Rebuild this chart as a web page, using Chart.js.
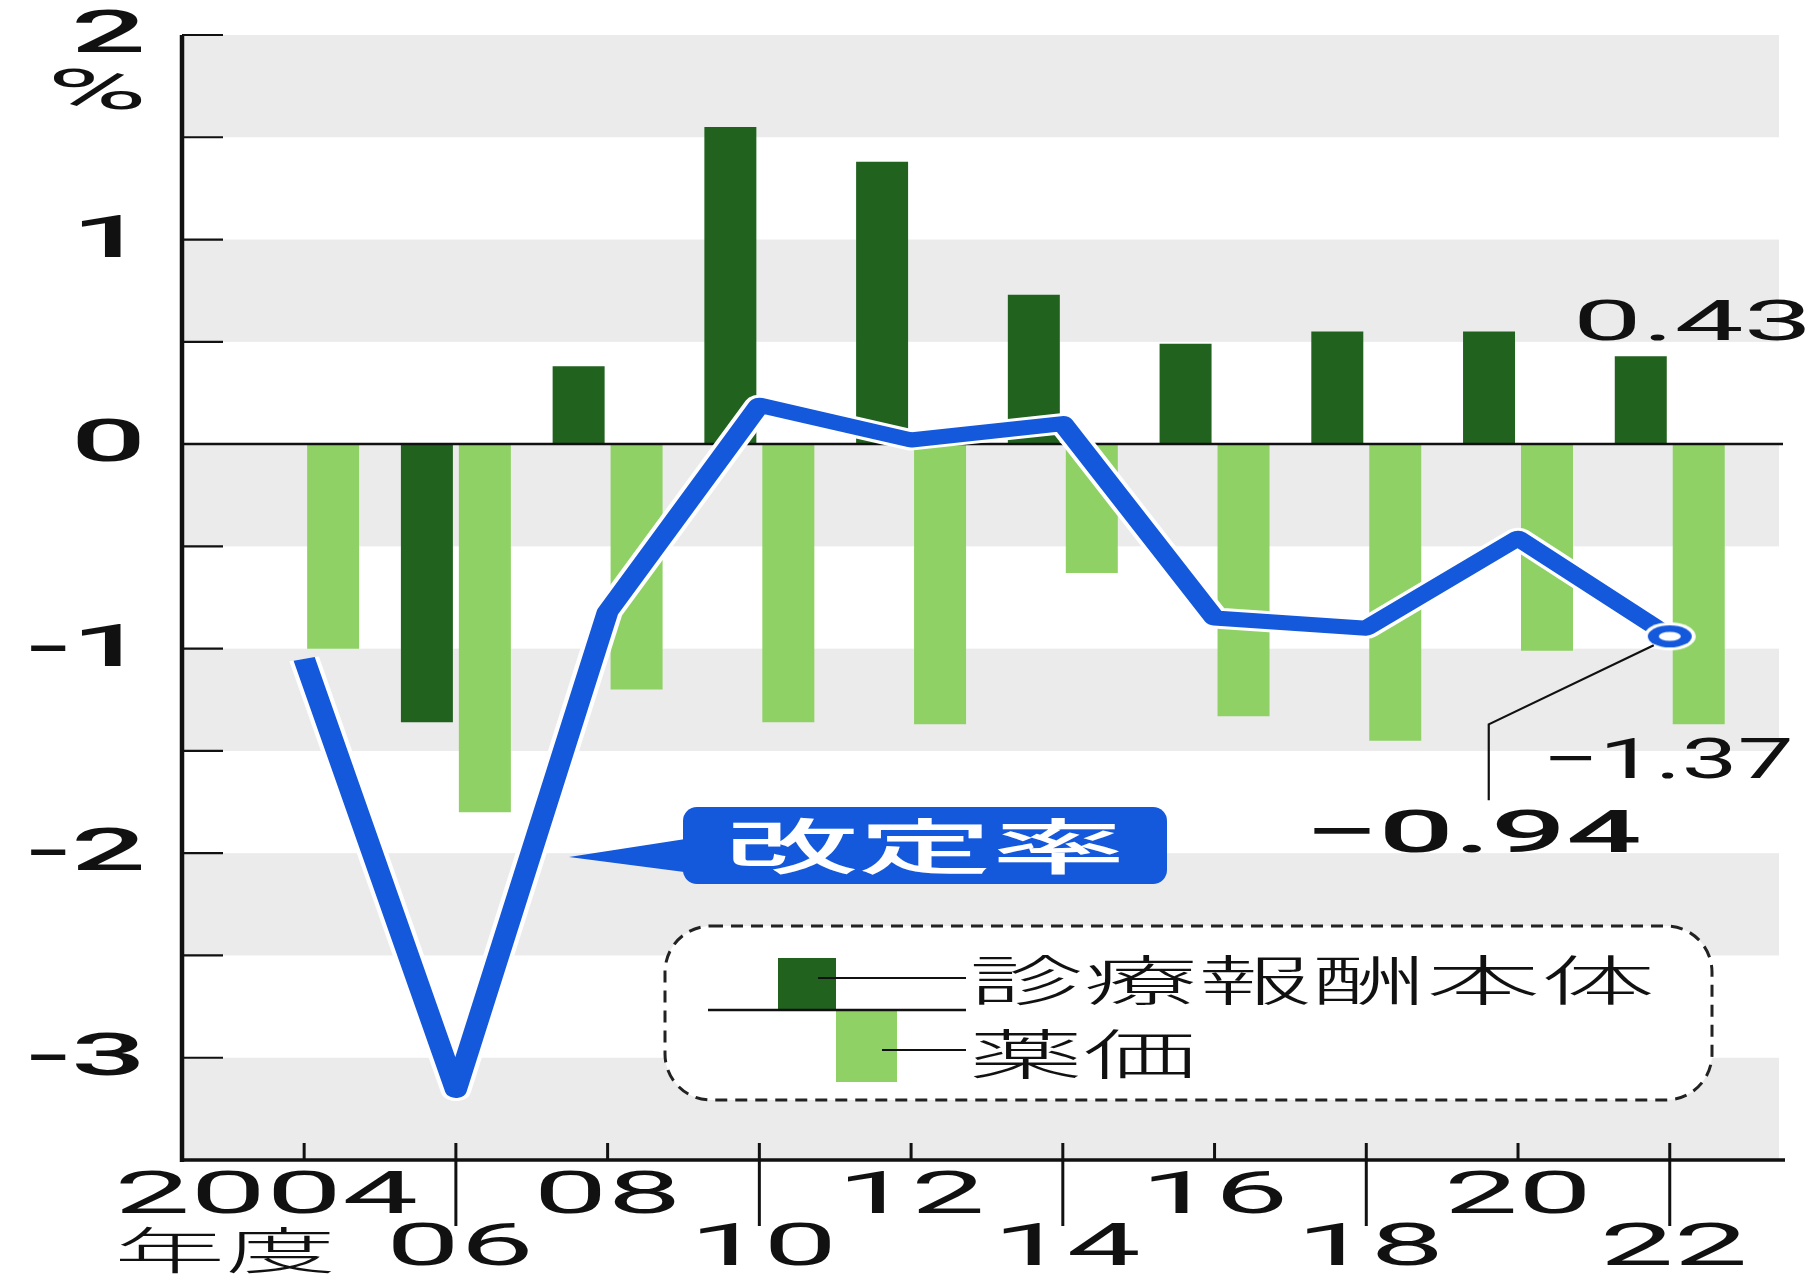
<!DOCTYPE html>
<html lang="ja">
<head>
<meta charset="utf-8">
<script src="https://cdn.jsdelivr.net/npm/chart.js@4.4.0/dist/chart.umd.min.js"></script>
<style>
  html, body { margin: 0; padding: 0; background: #fff; }
  #wrap { width: 1820px; height: 1276px; position: relative; }
</style>
</head>
<body>
<div id="wrap"><canvas id="chart"></canvas></div>
<script>
// 診療報酬改定率の推移 (%)
const years = [2004, 2006, 2008, 2010, 2012, 2014, 2016, 2018, 2020, 2022];
const yearLabels = ['2004', '06', '08', '10', '12', '14', '16', '18', '20', '22'];
const honTai = [0, -1.36, 0.38, 1.55, 1.38, 0.73, 0.49, 0.55, 0.55, 0.43];            // 診療報酬本体
const yakka = [-1.0, -1.8, -1.2, -1.36, -1.37, -0.63, -1.33, -1.45, -1.01, -1.37];     // 薬価
const kaiteiRitsu = [-1.05, -3.16, -0.82, 0.19, 0.02, 0.1, -0.85, -0.9, -0.46, -0.94]; // 改定率
const yTickLabels = [2, 1, 0, -1, -2, -3];

const DARK = '#22621f';
const LIGHT = '#8fd165';
const BLUE = '#1458dc';
const BAND = '#ebebeb';
const INK = '#111';
const PEN_STRETCH = 1.45; // 元図は横長に引き伸ばされているので線のペンも横長に

const pts = (arr) => years.map((yr, i) => ({ x: yr, y: arr[i] }));
const last = years.length - 1;

// 最終点の白抜きマーカー (横長)
const marker = document.createElement('canvas');
marker.width = 54;
marker.height = 30;
(() => {
  const m = marker.getContext('2d');
  const ell = (rx, ry, c) => { m.beginPath(); m.ellipse(27, 15, rx, ry, 0, 0, Math.PI * 2); m.fillStyle = c; m.fill(); };
  ell(26, 14, '#fff');
  ell(22, 11, BLUE);
  ell(11, 4.5, '#fff');
})();

// 横に引き伸ばした文字
function wideText(ctx, text, x, y, opt) {
  ctx.save();
  ctx.font = opt.font;
  ctx.fillStyle = opt.color || INK;
  ctx.textBaseline = 'middle';
  ctx.textAlign = opt.align || 'left';
  let sx = opt.sx || 1;
  if (opt.width) sx = opt.width / ctx.measureText(text).width;
  ctx.translate(x, y);
  ctx.scale(sx, 1);
  ctx.fillText(text, 0, 0);
  ctx.restore();
}

function line(ctx, x1, y1, x2, y2, w) {
  ctx.beginPath();
  ctx.lineWidth = w;
  ctx.moveTo(x1, y1);
  ctx.lineTo(x2, y2);
  ctx.stroke();
}

const decor = {
  id: 'decor',
  beforeDatasetsDraw(chart) {
    const { ctx, chartArea: a, scales: { y } } = chart;
    ctx.save();
    ctx.fillStyle = BAND;
    for (let v = 2; v > -3.5; v -= 1) {
      const top = y.getPixelForValue(v);
      const bot = y.getPixelForValue(v - 0.5);
      ctx.fillRect(a.left, top, a.right - a.left, bot - top);
    }
    ctx.restore();
  },
  beforeDatasetDraw(chart, args) {
    if (chart.data.datasets[args.index].type !== 'line') return;
    const ctx = chart.ctx;
    const orig = ctx.stroke;
    ctx._origStroke = orig;
    ctx.stroke = function (...p) {
      if (this.lineWidth < 10) return orig.apply(this, p);
      this.save();
      this.scale(PEN_STRETCH, 1);
      orig.apply(this, p);
      this.restore();
    };
  },
  afterDatasetDraw(chart, args) {
    const { ctx, chartArea: a, scales: { y } } = chart;
    if (ctx._origStroke) {
      ctx.stroke = ctx._origStroke;
      delete ctx._origStroke;
    }
    if (args.index !== 0) return;
    ctx.save();
    ctx.strokeStyle = INK;
    line(ctx, a.left, y.getPixelForValue(0), a.right + 4, y.getPixelForValue(0), 2.5);
    ctx.restore();
  },
  afterDraw(chart) {
    const { ctx, chartArea: a, scales: { x, y } } = chart;
    ctx.save();
    ctx.strokeStyle = INK;
    ctx.lineCap = 'butt';

    // 軸
    line(ctx, a.left, a.top, a.left, a.bottom + 2, 4.5);
    line(ctx, a.left - 2, a.bottom, a.right + 6, a.bottom, 3.5);
    for (let v = 2; v > -3.5; v -= 0.5) {
      if (v === 0) continue;
      const py = y.getPixelForValue(v);
      line(ctx, a.left, py, a.left + 41, py, 2.2);
    }

    // 縦軸目盛り
    yTickLabels.forEach((v) => {
      wideText(ctx, String(v), 146, y.getPixelForValue(v) + 2, { font: '500 60px Roboto', align: 'right', sx: 2.2 });
    });
    wideText(ctx, '%', 147, y.getPixelForValue(2) + 60, { font: '56px Roboto', align: 'right', width: 100 });

    // 横軸目盛り
    years.forEach((yr, i) => {
      const px = x.getPixelForValue(yr);
      if (i % 2 === 0) {
        line(ctx, px, a.bottom, px, a.bottom - 17, 3);
        if (i === 0) {
          wideText(ctx, yearLabels[i], px - 190, a.bottom + 38, { font: '60px Roboto', width: 304 });
        } else {
          wideText(ctx, yearLabels[i], px, a.bottom + 38, { font: '60px Roboto', align: 'center', width: 148 });
        }
      } else {
        line(ctx, px, a.bottom - 17, px, a.bottom + 66, 3);
        wideText(ctx, yearLabels[i], px + 4, a.bottom + 90, { font: '60px Roboto', align: 'center', width: 148 });
      }
    });
    wideText(ctx, '年度', x.getPixelForValue(2004) - 190, a.bottom + 90, { font: '300 50px "Noto Sans CJK JP"', width: 222 });

    // 数値注記
    const x22 = x.getPixelForValue(2022);
    wideText(ctx, '0.43', x22 - 97, y.getPixelForValue(honTai[last]) - 30, { font: '56px Roboto', width: 240 });
    wideText(ctx, '−1.37', x22 - 128, y.getPixelForValue(yakka[last]) + 40, { font: '56px Roboto', width: 252 });
    const yPt = y.getPixelForValue(kaiteiRitsu[last]);
    wideText(ctx, '−0.94', x22 - 366, yPt + 201, { font: '500 60px Roboto', width: 338 });
    ctx.beginPath();
    ctx.lineWidth = 2.2;
    ctx.moveTo(x22 - 16, yPt + 9);
    ctx.lineTo(x22 - 181, yPt + 88);
    ctx.lineTo(x22 - 181, yPt + 164);
    ctx.stroke();

    // 改定率ラベル
    ctx.fillStyle = BLUE;
    ctx.beginPath();
    ctx.moveTo(569, 857);
    ctx.lineTo(692, 838);
    ctx.lineTo(692, 873);
    ctx.closePath();
    ctx.fill();
    ctx.beginPath();
    ctx.roundRect(683, 807, 484, 77, 14);
    ctx.fill();
    wideText(ctx, '改定率', 925, 846, { font: '500 60px "Noto Sans CJK JP"', align: 'center', width: 401, color: '#fff' });

    // 凡例
    ctx.beginPath();
    ctx.roundRect(665, 926, 1047, 174, 46);
    ctx.fillStyle = '#fff';
    ctx.fill();
    ctx.setLineDash([12, 8]);
    ctx.lineWidth = 3;
    ctx.strokeStyle = '#222';
    ctx.stroke();
    ctx.setLineDash([]);
    ctx.fillStyle = DARK;
    ctx.fillRect(778, 958, 58, 52);
    ctx.fillStyle = LIGHT;
    ctx.fillRect(836, 1010, 61, 72);
    ctx.strokeStyle = INK;
    line(ctx, 708, 1010, 966, 1010, 2.5);
    line(ctx, 818, 978, 966, 978, 1.8);
    line(ctx, 882, 1050, 966, 1050, 1.8);
    wideText(ctx, '診療報酬本体', 969, 980, { font: '300 54px "Noto Sans CJK JP"', width: 686 });
    wideText(ctx, '薬価', 969, 1054, { font: '300 54px "Noto Sans CJK JP"', width: 228 });
    ctx.restore();
  }
};

new Chart(document.getElementById('chart'), {
  type: 'bar',
  data: {
    datasets: [
      {
        label: '診療報酬本体',
        data: pts(honTai),
        backgroundColor: DARK,
        categoryPercentage: 0.764,
        barPercentage: 0.897,
        order: 3,
      },
      {
        label: '薬価',
        data: pts(yakka),
        backgroundColor: LIGHT,
        categoryPercentage: 0.764,
        barPercentage: 0.897,
        order: 4,
      },
      {
        type: 'line',
        label: 'halo',
        data: pts(kaiteiRitsu),
        borderColor: '#fff',
        borderWidth: 21,
        borderJoinStyle: 'round',
        segment: {},
        pointRadius: 0,
        order: 2,
      },
      {
        type: 'line',
        label: '改定率',
        data: pts(kaiteiRitsu),
        borderColor: BLUE,
        borderWidth: 15,
        borderJoinStyle: 'round',
        segment: {},
        pointRadius: (c) => (c.dataIndex === last ? 10 : 0),
        pointStyle: (c) => (c.dataIndex === last ? marker : 'circle'),
        order: 1,
      },
    ],
  },
  options: {
    responsive: true,
    maintainAspectRatio: false,
    devicePixelRatio: 1,
    animation: false,
    layout: { padding: { left: 182, right: 41, top: 35, bottom: 116 } },
    plugins: { legend: { display: false }, tooltip: { enabled: false } },
    scales: {
      x: { type: 'linear', min: 2002.39, max: 2023.44, offset: false, display: false },
      y: { min: -3.5, max: 2, display: false },
    },
  },
  plugins: [decor],
});
</script>
</body>
</html>
